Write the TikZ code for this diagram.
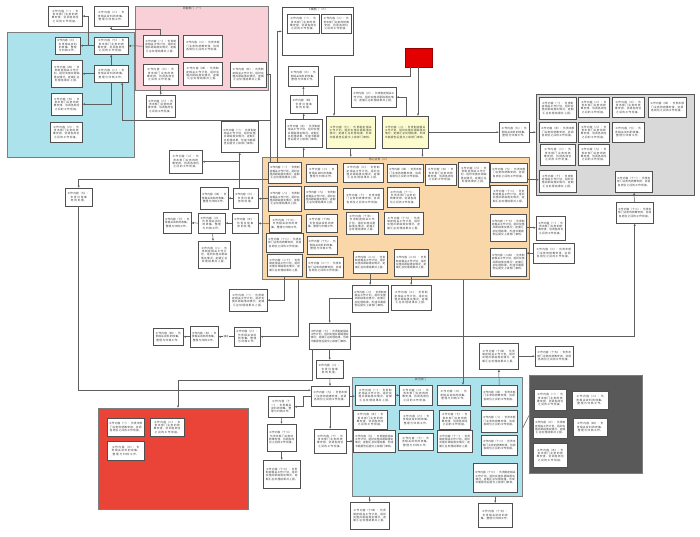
\documentclass[tikz,border=0pt]{standalone}
\usepackage{fontspec}
\newfontfamily\cjk{Noto Sans CJK SC}
\XeTeXlinebreaklocale "zh"
\XeTeXlinebreakskip = 0pt plus 1pt
\usetikzlibrary{positioning,arrows.meta}

\definecolor{cyanfill}{RGB}{172,226,236}
\definecolor{pinkfill}{RGB}{250,208,216}
\definecolor{orangefill}{RGB}{250,215,168}
\definecolor{greyfill}{RGB}{217,217,217}
\definecolor{redfill}{RGB}{234,67,56}
\definecolor{darkfill}{RGB}{89,89,89}
\definecolor{alarm}{RGB}{226,0,0}
\definecolor{yellowfill}{RGB}{252,252,206}
\definecolor{boxline}{RGB}{80,80,80}
\definecolor{contline}{RGB}{125,125,125}
\definecolor{linegray}{RGB}{95,95,95}
\definecolor{textgray}{RGB}{60,60,60}

% filler texts for the boxes
\newcommand\txa[1]{工作内容（#1）：负责日常事务的处理。}
\newcommand\txb[1]{工作内容（#1）：负责相关资料的收集、整理与归档工作。}
\newcommand\txc[1]{工作内容（#1）：负责本部门业务的统筹安排，协调各岗位之间的工作衔接。}
\newcommand\txd[1]{工作内容（#1）：负责制定相关工作计划，组织实施并跟踪落实情况，定期汇总处理结果并上报。}
\newcommand\txe[1]{工作内容（#1）：负责制定相关工作计划，组织实施并跟踪落实情况；定期汇总处理结果，形成书面报告后提交上级部门审核。}

\tikzset{
  bx/.code 2 args={%
    \pgfmathsetmacro\bxtw{#1-3}%
    \edef\bxopts{minimum width=#1pt, minimum height=#2pt, text width=\bxtw pt}%
    \expandafter\pgfkeysalso\expandafter{\bxopts}}
}

\begin{document}
\begin{tikzpicture}[x=1pt, y=-1pt,
    font=\cjk\fontsize{2.7}{3.35}\selectfont,
    box/.style={draw=boxline, fill=white, line width=0.45pt, inner sep=1pt, align=center, anchor=north west, text=textgray},
    cont/.style={draw=contline, line width=0.8pt, anchor=north west, inner sep=0pt},
    ttl/.style={inner sep=0.5pt, text=textgray, font=\cjk\fontsize{2.8}{3.2}\selectfont},
    arr/.style={-{Latex[length=2.4pt, width=2.2pt]}, draw=linegray, line width=0.5pt},
    ln/.style={draw=linegray, line width=0.5pt},
    lbl/.style={fill=white, inner sep=0.4pt, text=textgray, font=\cjk\fontsize{2.5}{3}\selectfont}
  ]
  \fill[white] (0,0) rectangle (700,536);
  \useasboundingbox (0,0) rectangle (700,536);

  % containers
  \node[cont, bx={127}{125}, fill=cyanfill] (cyanA) at (7,32) {};
  \node[cont, bx={133}{84}, fill=pinkfill] (pinkc) at (135,6) {};
  \node[cont, bx={71}{48}, fill=white, draw=boxline] (topc) at (282,7) {};
  \node[cont, bx={158}{101}, fill=greyfill, draw=darkfill, line width=1.2pt] (grey) at (536,94) {};
  \node[cont, bx={267}{122}, fill=orangefill, draw=contline] (orange) at (262,157) {};
  \node[cont, bx={150}{101}, fill=redfill, draw=contline] (redc) at (98,408) {};
  \node[cont, bx={170}{119}, fill=cyanfill] (cyanB) at (352,377) {};
  \node[cont, bx={113}{98}, fill=darkfill, draw=contline] (dark) at (529,375) {};
  \node[ttl, below=0.5pt of pinkc.north, xshift=-9pt] (pinkt) {职能部门（一）};
  \node[ttl, below=0.5pt of topc.north] (topt) {下属部门（三）};
  \node[ttl, below=0.3pt of orange.north, xshift=-17pt] (oranget) {核心业务（二）};
  \node[ttl, below=0.3pt of cyanB.north, xshift=-17pt] (cyanBt) {执行部门};

  % top left and cyan group
  \node[box, bx={34}{20}] (tl1) at (48,6) {\txc{一}};
  \node[box, bx={34}{20}] (tl2) at (94,6) {\txb{二}};
  \node[box, bx={25}{17}] (ca1) at (55,37) {\txb{三}};
  \node[box, bx={31}{27}] (ca2) at (51,60) {\txd{四}};
  \node[box, bx={31}{22}] (ca3) at (51,93) {\txc{五}};
  \node[box, bx={32}{20}] (ca4) at (50,122) {\txc{六}};
  \node[box, bx={34}{17}] (cm1) at (94,37) {\txc{七}};
  \node[box, bx={34}{17}] (cm2) at (94,65) {\txb{八}};

  % pink group
  \node[box, bx={35}{22}] (pk1) at (143,35) {\txd{一}};
  \node[box, bx={39}{22}] (pk2) at (183,35) {\txc{二}};
  \node[box, bx={35}{21}] (pk3) at (143,64) {\txc{三}};
  \node[box, bx={39}{23}] (pk4) at (183,62) {\txd{四}};
  \node[box, bx={36}{25}] (pk5) at (230,62) {\txd{五}};
  \node[box, bx={29}{22}] (pb) at (146,95) {\txc{六}};

  % top middle
  \node[box, bx={32}{19}] (tp1) at (287,14) {\txc{一}};
  \node[box, bx={30}{19}] (tp2) at (321,14) {\txc{二}};
  \node[box, bx={30}{20}] (st1) at (288,66) {\txb{三}};
  \node[box, bx={27}{18}] (st2) at (290,95) {\txa{四}};
  \node[box, bx={37}{28}] (st3) at (285,119) {\txe{五}};
  \node[box, bx={45}{20}] (sy) at (351,87) {\txd{六}};
  \node[box, bx={27}{19}, fill=alarm, draw=red!60!black] (red) at (405,48) {};
  \node[box, bx={49}{32}, fill=yellowfill] (yl1) at (326,116) {\txe{七}};
  \node[box, bx={46}{32}, fill=yellowfill] (yl2) at (382,116) {\txe{八}};
  \node[box, bx={30}{20}] (rb) at (499,122) {\txb{九}};

  % grey group
  \node[box, bx={37}{22}] (g11) at (539,97) {\txd{一}};
  \node[box, bx={31}{20}] (g12) at (578,97) {\txc{二}};
  \node[box, bx={32}{20}] (g13) at (612,97) {\txc{三}};
  \node[box, bx={38}{20}] (g14) at (648,97) {\txc{四}};
  \node[box, bx={37}{20}] (g21) at (539,122) {\txc{五}};
  \node[box, bx={31}{20}] (g22) at (578,122) {\txc{六}};
  \node[box, bx={32}{20}] (g23) at (612,122) {\txb{七}};
  \node[box, bx={35}{21}] (g31) at (540,144) {\txc{八}};
  \node[box, bx={31}{21}] (g32) at (578,144) {\txc{九}};
  \node[box, bx={37}{22}] (g41) at (539,170) {\txd{十}};
  \node[box, bx={37}{21}] (g42) at (615,171) {\txc{十一}};
  \node[box, bx={37}{21}] (gb) at (616,202) {\txc{十二}};

  % orange group
  \node[box, bx={33}{21}] (o11) at (268,162) {\txd{一}};
  \node[box, bx={31}{18}] (o12) at (306,164) {\txb{二}};
  \node[box, bx={40}{19}] (o13) at (343,163) {\txd{三}};
  \node[box, bx={36}{18}] (o14) at (387,164) {\txc{四}};
  \node[box, bx={31}{21}] (o15) at (425,164) {\txc{五}};
  \node[box, bx={31}{25}] (o16) at (458,162) {\txd{六}};
  \node[box, bx={37}{19}] (o17) at (490,163) {\txc{七}};
  \node[box, bx={33}{25}] (o21) at (268,186) {\txd{八}};
  \node[box, bx={33}{23}] (o22) at (304,186) {\txd{九}};
  \node[box, bx={40}{21}] (o23) at (343,188) {\txc{十}};
  \node[box, bx={32}{20}] (o24) at (387,187) {\txc{十一}};
  \node[box, bx={37}{22}] (o25) at (490,185) {\txd{十二}};
  \node[box, bx={32}{17}] (o31) at (269,215) {\txb{十三}};
  \node[box, bx={31}{18}] (o32) at (306,214) {\txb{十四}};
  \node[box, bx={32}{22}] (o33) at (346,212) {\txd{十五}};
  \node[box, bx={39}{22}] (o34) at (384,212) {\txd{十六}};
  \node[box, bx={36}{27}] (o35) at (490,214) {\txe{十七}};
  \node[box, bx={37}{19}] (o41) at (266,233) {\txc{十八}};
  \node[box, bx={30}{18}] (o42) at (307,236) {\txb{十九}};
  \node[box, bx={35}{22}] (o51) at (267,254) {\txd{二十}};
  \node[box, bx={37}{20}] (o52) at (306,257) {\txc{二一}};
  \node[box, bx={34}{22}] (o53) at (353,251) {\txd{二二}};
  \node[box, bx={34}{27}] (o54) at (394,249) {\txd{二三}};
  \node[box, bx={36}{28}] (o55) at (490,248) {\txe{二四}};
  \node[box, bx={29}{24}] (or1) at (536,216) {\txc{一}};
  \node[box, bx={41}{20}] (or2) at (533,243) {\txc{二}};

  % left of orange
  \node[box, bx={37}{31}] (lq1) at (221,121) {\txe{一}};
  \node[box, bx={33}{23}] (lq2) at (169,150) {\txc{二}};
  \node[box, bx={25}{20}] (lq3) at (233,188) {\txa{三}};
  \node[box, bx={28}{22}] (lq4) at (200,187) {\txb{四}};
  \node[box, bx={26}{20}] (lr1) at (232,213) {\txa{五}};
  \node[box, bx={27}{20}] (lr2) at (198,213) {\txb{六}};
  \node[box, bx={28}{21}] (lr3) at (163,212) {\txb{七}};
  \node[box, bx={32}{27}] (lr4) at (198,241) {\txd{八}};
  \node[box, bx={27}{18}] (lx) at (65,188) {\txa{九}};

  % below orange
  \node[box, bx={38}{22}] (ob1) at (229,289) {\txd{一}};
  \node[box, bx={36}{27}] (ob2) at (352,285) {\txe{二}};
  \node[box, bx={40}{25}] (ob3) at (391,285) {\txd{三}};
  \node[box, bx={30}{17}] (ra1) at (153,328) {\txb{四}};
  \node[box, bx={28}{21}] (ra2) at (190,326) {\txb{五}};
  \node[box, bx={26}{19}] (ra3) at (234,327) {\txb{六}};
  \node[box, bx={41}{26}] (A) at (309,323) {\txe{七}};
  \node[box, bx={27}{18}] (B) at (316,360) {\txa{八}};
  \node[box, bx={38}{20}] (C) at (311,386) {\txc{九}};
  \node[box, bx={32}{24}] (D) at (314,429) {\txc{十}};
  \node[box, bx={26}{21}] (la1) at (268,396) {\txb{十一}};
  \node[box, bx={29}{27}] (la2) at (267,424) {\txc{十二}};
  \node[box, bx={37}{28}] (la3) at (263,460) {\txd{十三}};
  \node[box, bx={39}{26}] (rm1) at (479,343) {\txd{十四}};
  \node[box, bx={38}{20}] (rm2) at (535,346) {\txc{十五}};

  % red group
  \node[box, bx={37}{18}] (rd1) at (107,418) {\txc{一}};
  \node[box, bx={34}{18}] (rd2) at (150,418) {\txc{二}};
  \node[box, bx={37}{19}] (rd3) at (107,441) {\txb{三}};

  % cyan bottom group
  \node[box, bx={40}{20}] (cy11) at (355,385) {\txd{一}};
  \node[box, bx={33}{20}] (cy12) at (399,385) {\txc{二}};
  \node[box, bx={33}{20}] (cy13) at (437,385) {\txb{三}};
  \node[box, bx={36}{21}] (cy14) at (481,385) {\txc{四}};
  \node[box, bx={34}{19}] (cy21) at (353,410) {\txc{五}};
  \node[box, bx={34}{19}] (cy22) at (399,410) {\txb{六}};
  \node[box, bx={31}{19}] (cy23) at (439,410) {\txc{七}};
  \node[box, bx={36}{22}] (cy24) at (481,410) {\txc{八}};
  \node[box, bx={42}{22}] (cy31) at (353,430) {\txe{九}};
  \node[box, bx={35}{17}] (cy32) at (398,433) {\txb{十}};
  \node[box, bx={35}{22}] (cy33) at (437,430) {\txd{十一}};
  \node[box, bx={36}{20}] (cy34) at (481,435) {\txc{十二}};
  \node[box, bx={44}{29}] (cy41) at (473,463) {\txe{十三}};
  \node[box, bx={39}{27}] (cb1) at (350,502) {\txd{十四}};
  \node[box, bx={34}{24}] (cb2) at (478,503) {\txb{十五}};

  % dark group
  \node[box, bx={32}{21}] (dk1) at (534,389) {\txc{一}};
  \node[box, bx={36}{18}] (dk2) at (572,391) {\txb{二}};
  \node[box, bx={34}{21}] (dk3) at (533,417) {\txd{三}};
  \node[box, bx={34}{18}] (dk4) at (573,418) {\txb{四}};
  \node[box, bx={34}{24}] (dk5) at (533,443) {\txc{五}};

  % helper points
  \coordinate (p3) at ([xshift=-6pt]lq3.north);
  \coordinate (pr) at ([xshift=13pt]red.south west);
  \coordinate (py) at ([xshift=-6pt]yl2.south east);
  \coordinate (po) at ([yshift=-7pt]o17.east);
  \coordinate (pd) at ([xshift=201pt]orange.south west);

  % connectors
  \draw[arr] (cm1) -- (ca1);
  \draw[arr] (cm1.west) -- ++(-6,0) |- (tl1);
  \draw[arr] (pk1.north) -- ++(0,-6) -| (tl2);
  \draw[arr] (pk1) -- (cm1);
  \draw[arr] (cm2) -- (cm1);
  \draw[arr] (cm2) -- (ca2);
  \draw[arr] (cm2.south) |- (ca3);
  \draw[arr] ([xshift=2pt]o11.north west) -- ++(0,-42) -| ([xshift=11pt]cm2.south);
  \draw[arr] ([xshift=2pt]o11.north west) |- (pk5);
  \draw[arr] ([xshift=9pt]o11.north west) |- (topc);
  \draw[arr] (st3.south |- orange.north) -- (st3);
  \draw[arr] (st3) -- (st2);
  \draw[arr] (st2) -- (st1);
  \draw[arr] ([xshift=5pt]red.south west) -- ++(0,9) -| ([xshift=8pt]yl1.north west);
  \draw[arr] (pr) -- (pr |- yl2.north);
  \draw[arr] ([xshift=-22pt]yl2.north east) |- (sy);
  \draw[arr] (yl1.south) -- (yl1.south |- orange.north);
  \draw[arr] (py) -- (py |- orange.north);
  \draw[arr] (yl2) -- (rb);
  \draw[arr] (rb) -- (rb -| grey.west);
  \draw[arr] (gb) -- (g42);
  \draw[arr] (A.east) -| (gb.south);
  \draw[arr] (po) -- (po -| g41.west);
  \draw[arr] (o35) -- (o35 -| or1.west);
  \draw[arr] (or2) -- (or2 -| o55.east);
  \draw[arr] (o51.south) |- (ob1);
  \draw[arr] (o53) -- (ob2);
  \draw[arr] (o54) -- (ob3);
  \draw[arr] (ob2.west) -| (A);
  \draw[arr] ([xshift=36pt]orange.south west) |- (ra3);
  \draw[arr] (ra3) -- node[lbl] {通过} (ra2);
  \draw[arr] (ra2) -- (ra1);
  \draw[arr] (A) -- (B);
  \draw[arr] (B) -- (C);
  \draw[arr] (C) -- (D);
  \draw[arr] ([xshift=3pt]A.south west) -- ++(0,31) -| ([xshift=80pt]redc.north west);
  \draw[arr] ([yshift=-7pt]o11.west) -| (lx);
  \draw[arr] (lx.south) |- ([yshift=6pt]C.west);
  \draw[arr] (C) -- (C -| cy11.west);
  \draw[arr] (C.west) -- ++(-8,0) |- (la1);
  \draw[arr] (la1) -- (la2);
  \draw[arr] (la2) -- (la3);
  \draw[arr] (D) -- (D -| cy31.west);
  \draw[arr] (cy12) -- (cy11);
  \draw[arr] (cy14) -- (rm1);
  \draw[arr] (rm1) -- (rm2);
  \draw[arr] (pd) -- (pd |- cy13.north);
  \draw[arr] (cyanB.south -| cb1) -- (cb1);
  \draw[arr] (cyanB.south -| cb2) -- (cb2);
  \draw[ln] ([yshift=9pt]cyanB.east) -- ([yshift=9pt]dark.west);
  \draw[arr] (p3) -- (p3 |- lq1.south);
  \draw[arr] (p3) |- (lq2);
  \draw[arr] (lq3) -- (lq4);
  \draw[arr] (o21) -- (o21 -| lq3.east);
  \draw[arr] (o31) -- (lr1);
  \draw[arr] (lr1) -- (lr2);
  \draw[arr] (lr2) -- (lr3);
  \draw[arr] (lr2) -- (lr4);
  \draw[arr] (pk3) -- (pb);
\end{tikzpicture}
\end{document}
